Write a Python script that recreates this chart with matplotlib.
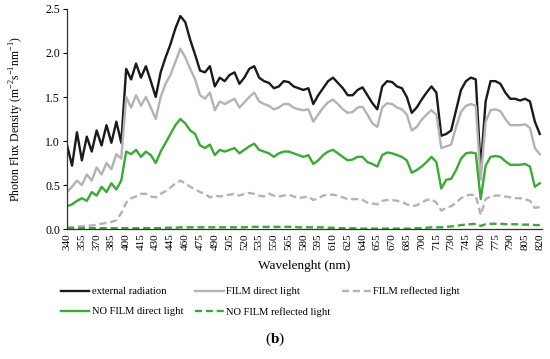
import numpy as np
import matplotlib
matplotlib.use("Agg")
import matplotlib.pyplot as plt

# Lunghezze d'onda (nm), passo 5 nm
wavelength = np.arange(340, 821, 5)

# Serie
external = [0.95, 0.72, 1.10, 0.78, 1.05, 0.88, 1.12, 0.95, 1.18, 0.98, 1.22, 0.98,
            1.82, 1.70, 1.88, 1.72, 1.85, 1.68, 1.50, 1.78, 1.95, 2.10, 2.28, 2.42,
            2.35, 2.15, 1.98, 1.80, 1.78, 1.85, 1.62, 1.72, 1.68, 1.75, 1.78, 1.65,
            1.72, 1.82, 1.85, 1.72, 1.68, 1.66, 1.60, 1.62, 1.68, 1.67, 1.62, 1.60,
            1.58, 1.60, 1.42, 1.52, 1.60, 1.68, 1.72, 1.66, 1.60, 1.52, 1.52, 1.58,
            1.61, 1.52, 1.43, 1.36, 1.62, 1.68, 1.67, 1.62, 1.60, 1.50, 1.32, 1.38,
            1.47, 1.55, 1.62, 1.55, 1.06, 1.08, 1.12, 1.35, 1.58, 1.68, 1.72, 1.70,
            0.68, 1.45, 1.68, 1.68, 1.65, 1.55, 1.48, 1.48, 1.46, 1.48, 1.45, 1.22,
            1.08]

film_direct = [0.42, 0.48, 0.55, 0.50, 0.62, 0.55, 0.70, 0.62, 0.75, 0.68, 0.85, 0.80,
               1.50, 1.38, 1.52, 1.40, 1.50, 1.38, 1.25, 1.50, 1.65, 1.75, 1.90, 2.05,
               1.95, 1.82, 1.70, 1.52, 1.48, 1.55, 1.35, 1.45, 1.42, 1.45, 1.48, 1.38,
               1.44, 1.50, 1.55, 1.45, 1.42, 1.40, 1.36, 1.38, 1.42, 1.42, 1.38, 1.36,
               1.35, 1.36, 1.22, 1.30, 1.38, 1.44, 1.47, 1.42, 1.36, 1.32, 1.33, 1.38,
               1.39, 1.30, 1.20, 1.16, 1.38, 1.43, 1.42, 1.38, 1.36, 1.30, 1.12, 1.16,
               1.24, 1.30, 1.35, 1.30, 0.92, 0.94, 0.96, 1.16, 1.33, 1.40, 1.42, 1.40,
               0.56, 1.22, 1.35, 1.36, 1.34, 1.25, 1.18, 1.18, 1.18, 1.19, 1.15, 0.92,
               0.85]

film_reflected = [0.02, 0.02, 0.03, 0.03, 0.04, 0.04, 0.05, 0.06, 0.07, 0.08, 0.10, 0.18,
                  0.30, 0.35, 0.37, 0.40, 0.40, 0.37, 0.36, 0.40, 0.43, 0.47, 0.52, 0.55,
                  0.52, 0.48, 0.45, 0.42, 0.40, 0.36, 0.38, 0.37, 0.38, 0.39, 0.40, 0.38,
                  0.40, 0.41, 0.40, 0.38, 0.37, 0.40, 0.38, 0.37, 0.38, 0.39, 0.37, 0.35,
                  0.36, 0.37, 0.33, 0.35, 0.38, 0.39, 0.39, 0.38, 0.36, 0.34, 0.34, 0.34,
                  0.33, 0.30, 0.29, 0.28, 0.32, 0.33, 0.33, 0.32, 0.31, 0.28, 0.26, 0.27,
                  0.30, 0.33, 0.34, 0.30, 0.21, 0.24, 0.26, 0.30, 0.35, 0.38, 0.39, 0.38,
                  0.16, 0.34, 0.37, 0.38, 0.38, 0.37, 0.36, 0.35, 0.35, 0.34, 0.32, 0.24,
                  0.25]

nofilm_direct = [0.26, 0.28, 0.32, 0.35, 0.32, 0.42, 0.38, 0.48, 0.42, 0.52, 0.45, 0.55,
                 0.88, 0.85, 0.90, 0.82, 0.88, 0.84, 0.75, 0.88, 0.98, 1.08, 1.18, 1.25,
                 1.20, 1.12, 1.08, 0.95, 0.92, 0.96, 0.84, 0.90, 0.88, 0.90, 0.92, 0.86,
                 0.90, 0.94, 0.97, 0.90, 0.88, 0.86, 0.82, 0.86, 0.88, 0.88, 0.86, 0.84,
                 0.82, 0.84, 0.74, 0.78, 0.84, 0.88, 0.90, 0.86, 0.82, 0.78, 0.79, 0.82,
                 0.82, 0.76, 0.74, 0.71, 0.84, 0.87, 0.86, 0.84, 0.82, 0.78, 0.64, 0.67,
                 0.71, 0.76, 0.82, 0.76, 0.46, 0.56, 0.57, 0.67, 0.80, 0.86, 0.87, 0.86,
                 0.34, 0.72, 0.82, 0.83, 0.82, 0.77, 0.73, 0.73, 0.73, 0.74, 0.71, 0.48,
                 0.52]

nofilm_reflected = [0.01, 0.01, 0.01, 0.01, 0.01, 0.01, 0.01, 0.01, 0.01, 0.01, 0.01, 0.01,
                    0.01, 0.01, 0.01, 0.01, 0.01, 0.01, 0.01, 0.01, 0.015, 0.015, 0.015, 0.02,
                    0.02, 0.02, 0.02, 0.02, 0.02, 0.02, 0.02, 0.02, 0.02, 0.02, 0.02, 0.02,
                    0.02, 0.025, 0.025, 0.025, 0.025, 0.025, 0.025, 0.025, 0.025, 0.025, 0.025, 0.02,
                    0.02, 0.02, 0.02, 0.02, 0.02, 0.015, 0.015, 0.01, 0.01, 0.01, 0.01, 0.005,
                    0.005, 0.005, 0.005, 0.005, 0.005, 0.005, 0.005, 0.005, 0.005, 0.005, 0.005, 0.01,
                    0.01, 0.015, 0.02, 0.02, 0.02, 0.025, 0.03, 0.035, 0.045, 0.05, 0.055, 0.06,
                    0.035, 0.055, 0.06, 0.06, 0.06, 0.055, 0.055, 0.055, 0.05, 0.05, 0.05, 0.045,
                    0.045]

x_ticks = np.arange(340, 821, 15)

BLACK = "#1a1a1a"
GREY = "#b3b3b3"
GREEN = "#3aaa35"

plt.rcParams["font.family"] = ["Liberation Serif", "DejaVu Serif"]
plt.rcParams["mathtext.fontset"] = "custom"
plt.rcParams["mathtext.rm"] = "Liberation Serif"
plt.rcParams["mathtext.bf"] = "Liberation Serif:bold"

fig = plt.figure(figsize=(5.5, 3.59), dpi=100)
ax = fig.add_axes([0.122, 0.362, 0.863, 0.613])

l_ext, = ax.plot(wavelength, external, color=BLACK, lw=1.7)
l_fd, = ax.plot(wavelength, film_direct, color=GREY, lw=1.7)
l_fr, = ax.plot(wavelength, film_reflected, color=GREY, lw=1.7, ls=(0, (3, 1.6)))
l_nd, = ax.plot(wavelength, nofilm_direct, color=GREEN, lw=1.7)
l_nr, = ax.plot(wavelength, nofilm_reflected, color=GREEN, lw=1.7, ls=(0, (3, 1.6)))

ax.set_xlim(340, 822)
ax.set_ylim(0, 2.5)
ax.set_xticks(x_ticks)
ax.set_xticklabels([str(t) for t in x_ticks], rotation=90, fontsize=8)
ax.set_yticks(np.arange(0, 2.51, 0.5))
ax.set_yticklabels([f"{v:.1f}" for v in np.arange(0, 2.51, 0.5)], fontsize=8.5)
ax.tick_params(axis="x", length=0, pad=3)
ax.tick_params(axis="y", length=3, width=0.8, pad=2)

for side in ["top", "right"]:
    ax.spines[side].set_visible(False)
for side in ["left", "bottom"]:
    ax.spines[side].set_color("#333333")
    ax.spines[side].set_linewidth(0.9)

ax.set_xlabel("Wavelenght (nm)", fontsize=9.5, labelpad=7)
ax.set_ylabel("Photon Flux Density (m$^{-2}$s$^{-1}$nm$^{-1}$)", fontsize=8.5, labelpad=14)

# legenda in basso: ordine per colonne, così le righe tornano come nell'originale
handles = [l_ext, l_nd, l_fd, l_nr, l_fr]
labels = ["external radiation", "NO FILM direct light", "FILM direct light",
          "NO FILM reflected light", "FILM reflected light"]
fig.legend(handles, labels, loc="upper left", bbox_to_anchor=(0.103, 0.213),
           ncol=3, frameon=False, fontsize=7.6, handlelength=2.7, handletextpad=0.25,
           columnspacing=1.1, labelspacing=1.0, borderaxespad=0)

fig.text(0.5, 0.03, "($\\mathbf{b}$)", ha="center", va="bottom", fontsize=11)

fig.savefig("out.png", dpi=100)
